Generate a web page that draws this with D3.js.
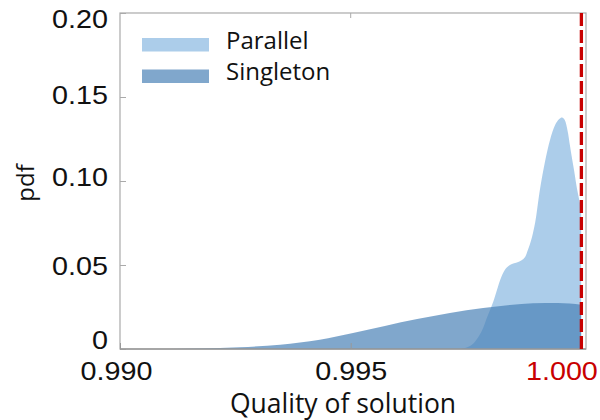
<!DOCTYPE html>
<html><head><meta charset="utf-8">
<script src="https://cdn.jsdelivr.net/npm/d3@7"></script>
<style>body{margin:0;background:#fff} svg{display:block}</style>
</head><body><svg id="c" width="600" height="420"></svg>
<script>
// ---- data ----
const seriesNames = ["Parallel", "Singleton"];
const parallelX = [0.99737, 0.99754, 0.99767, 0.99778, 0.99787, 0.99795, 0.99802, 0.99811, 0.99817, 0.99824,
                   0.99834, 0.99845, 0.99863, 0.99878, 0.99884, 0.99893, 0.99900, 0.99910, 0.99921, 0.99932,
                   0.99943, 0.99952, 0.99958, 0.99964, 0.99971, 0.99975, 0.99984, 0.99991, 0.99997, 1.00000];
const parallelY = [0.0000, 0.0012, 0.0036, 0.0077, 0.0125, 0.0185, 0.0232, 0.0298, 0.0351, 0.0411,
                   0.0470, 0.0500, 0.0518, 0.0548, 0.0589, 0.0667, 0.0756, 0.0946, 0.1113, 0.1244,
                   0.1333, 0.1369, 0.1378, 0.1363, 0.1286, 0.1214, 0.1065, 0.0946, 0.0869, 0.0835];
const singletonX = [0.99108, 0.99173, 0.99260, 0.99347, 0.99433, 0.99505, 0.99574, 0.99644, 0.99715,
                    0.99787, 0.99845, 0.99895, 0.99949, 1.00000];
const singletonY = [0.0000, 0.0003, 0.0010, 0.0026, 0.0055, 0.0095, 0.0137, 0.0178, 0.0214,
                    0.0244, 0.0262, 0.0272, 0.0274, 0.0264];
const xTicks = [0.990, 0.995, 1.000];
const xTickLabels = ["0.990", "0.995", "1.000"];
const yTicks = [0, 0.05, 0.10, 0.15, 0.20];
const yTickLabels = ["0", "0.05", "0.10", "0.15", "0.20"];
const optimum = 1.000;
const xTitle = "Quality of solution";
const yTitle = "pdf";

// ---- layout ----
const L = 120, R = 586, T = 13, B = 349;
const svg = d3.select("#c");
const x = d3.scaleLinear().domain([0.990, 1.0001]).range([L, R]);
const y = d3.scaleLinear().domain([0, 0.20]).range([B, T]);
const colors = {Parallel: "rgb(90,155,213)", Singleton: "rgb(74,129,182)"};
const opac = {Parallel: 0.5, Singleton: 0.7};
const red = "#c80000";
const tickFont = "'Liberation Sans', Arial, sans-serif";
const textFont = "'Open Sans', 'Noto Sans', sans-serif";
const yLabelNudge = [-10, 0, -5, -3, 5.5]; // label placement offsets as in the reference

svg.append("defs").append("clipPath").attr("id", "clip")
  .append("rect").attr("x", L).attr("y", T).attr("width", x(optimum) - L).attr("height", B - T);

// box
svg.append("rect").attr("x", L).attr("y", T).attr("width", R - L).attr("height", B - T)
  .attr("fill", "none").attr("stroke", "#aaaaaa").attr("stroke-width", 1.2);

// areas
const area = d3.area().x(d => x(d[0])).y0(y(0)).y1(d => y(d[1])).curve(d3.curveMonotoneX);
const pData = parallelX.map((v, i) => [v, parallelY[i]]);
const sData = singletonX.map((v, i) => [v, singletonY[i]]);
const gA = svg.append("g").attr("clip-path", "url(#clip)");
gA.append("path").datum(pData).attr("d", area).attr("fill", colors.Parallel).attr("fill-opacity", opac.Parallel);
gA.append("path").datum(sData).attr("d", area).attr("fill", colors.Singleton).attr("fill-opacity", opac.Singleton);

// y axis
const yAx = svg.append("g").attr("transform", `translate(${L},0)`)
  .call(d3.axisLeft(y).tickValues(yTicks).tickSize(-6).tickFormat((d, i) => yTickLabels[i]));
yAx.select(".domain").remove();
yAx.selectAll(".tick line").attr("stroke", "#aaaaaa");
yAx.selectAll(".tick text").attr("x", 0).attr("dy", "0.36em")
  .attr("transform", (d, i) => `translate(-12,${yLabelNudge[i]}) scale(1.15,1)`)
  .attr("font-family", tickFont).attr("font-size", 25).attr("fill", "#111").attr("text-anchor", "end");

// x axis
const xAx = svg.append("g").attr("transform", `translate(0,${B})`)
  .call(d3.axisBottom(x).tickValues(xTicks).tickSize(-6).tickFormat((d, i) => xTickLabels[i]));
xAx.select(".domain").remove();
xAx.selectAll(".tick line").attr("stroke", "#999999");
xAx.selectAll(".tick text").attr("y", 0).attr("dy", 0)
  .attr("transform", (d, i) => `translate(${i === 2 ? -20 : (i === 0 ? -4 : 0)},31) scale(1.15,1)`)
  .attr("font-family", tickFont).attr("font-size", 25)
  .attr("fill", (d, i) => i === 2 ? red : "#111");

// top mirror tick
svg.append("g").selectAll("line").data(xTicks.slice(1, 2)).join("line")
  .attr("x1", d => x(d)).attr("x2", d => x(d)).attr("y1", T).attr("y2", T + 5)
  .attr("stroke", "#aaaaaa");

// bottom axis line
svg.append("line").attr("x1", L).attr("x2", R).attr("y1", B).attr("y2", B)
  .attr("stroke", "#9a9a9a").attr("stroke-width", 1.5);

// optimum dashed line
svg.append("line").attr("x1", x(optimum)).attr("x2", x(optimum)).attr("y1", T).attr("y2", B)
  .attr("stroke", red).attr("stroke-width", 3.3).attr("stroke-dasharray", "13,4");

// titles
svg.append("text").attr("x", 343).attr("y", 413).attr("text-anchor", "middle")
  .attr("font-family", textFont).attr("font-size", 26.5).attr("fill", "#111").text(xTitle);
svg.append("text").attr("transform", "translate(34,183) rotate(-90)").attr("text-anchor", "middle")
  .attr("font-family", textFont).attr("font-size", 24).attr("fill", "#111").text(yTitle);

// legend
const leg = svg.append("g");
seriesNames.forEach((name, i) => {
  const cy = [44.5, 76][i];
  leg.append("rect").attr("x", 142).attr("y", cy - 6.5).attr("width", 67).attr("height", 13.5)
    .attr("fill", colors[name]).attr("fill-opacity", opac[name]);
  leg.append("text").attr("x", 226).attr("y", cy + 4).attr("font-family", textFont).attr("font-size", 24)
    .attr("fill", "#111").text(name);
});
</script></body></html>
